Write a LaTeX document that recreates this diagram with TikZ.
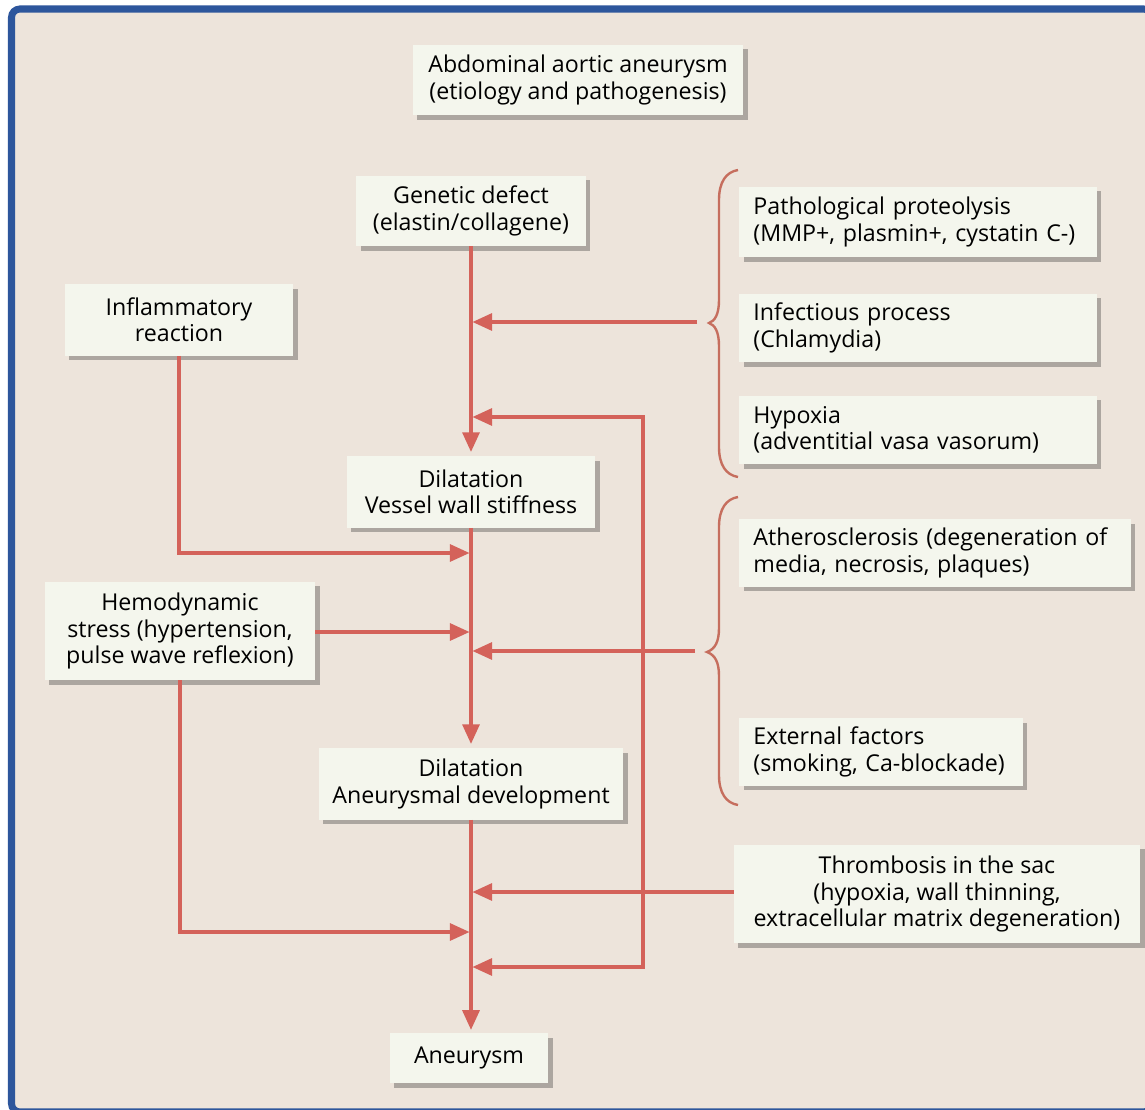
\documentclass[tikz,border=0pt]{standalone}
\usepackage{fontspec}
\setmainfont{Open Sans}
\usetikzlibrary{arrows.meta,shadows}
\definecolor{paper}{RGB}{237,228,219}
\definecolor{boxfill}{RGB}{244,246,237}
\definecolor{shade}{RGB}{172,166,160}
\definecolor{arrowred}{RGB}{212,98,90}
\definecolor{bracered}{RGB}{198,110,94}
\definecolor{frameblue}{RGB}{45,86,156}
\begin{document}
\begin{tikzpicture}[x=0.025cm, y=-0.025cm,
    box/.style={fill=boxfill, inner sep=0pt, align=center, font=\fontsize{16.5}{18.8}\selectfont, drop shadow={shadow xshift=3.2pt, shadow yshift=-3.2pt, fill=shade, opacity=1}},
    lbox/.style={box, align=left, inner xsep=0.35cm},
    flow/.style={draw=arrowred, line width=2.5pt, shorten >=1pt, -{Triangle[length=14pt, width=12pt]}},
    twoway/.style={flow, shorten <=1pt, {Triangle[length=14pt, width=12pt]}-{Triangle[length=14pt, width=12pt]}},
    brace/.style={draw=bracered, line width=1.7pt}]
    \useasboundingbox (0,0) rectangle (1145,1110); 
    \clip (0,0) rectangle (1145,1110); 
    \fill[white] (0,0) rectangle (1145,1110); 
    \draw[frameblue, fill=paper, line width=5pt, rounded corners=6pt] (11.5,9) rectangle (1152,1112); 
    \node[box, minimum width=8.25cm, minimum height=1.75cm] (title) at (578,80) {Abdominal aortic aneurysm\\(etiology and pathogenesis)}; 
    \node[box, minimum width=5.725cm, minimum height=1.75cm] (gen) at (471,211) {Genetic defect\\(elastin/collagene)}; 
    \node[box, minimum width=5.7cm, minimum height=1.775cm] (infl) at (179,320) {Inflammatory\\reaction}; 
    \node[box, minimum width=6.2cm, minimum height=1.775cm] (dil1) at (471,492) {Dilatation\\Vessel wall stiffness}; 
    \node[box, minimum width=6.75cm, minimum height=2.45cm] (hemo) at (180,631) {Hemodynamic\\stress (hypertension,\\pulse wave reflexion)}; 
    \node[box, minimum width=7.6cm, minimum height=1.775cm] (dil2) at (471,784) {Dilatation\\Aneurysmal development}; 
    \node[box, minimum width=3.95cm, minimum height=1.25cm] (aneu) at (469,1058) {Aneurysm}; 
    \node[lbox, text width=8.225cm, minimum height=1.75cm] (prot) at (918,222) {Pathological proteolysis\\(MMP+, plasmin+, cystatin C-)}; 
    \node[lbox, text width=8.225cm, minimum height=1.7cm] (infec) at (918,328) {Infectious process\\(Chlamydia)}; 
    \node[lbox, text width=8.225cm, minimum height=1.7cm] (hyp) at (918,430) {Hypoxia\\(adventitial vasa vasorum)}; 
    \node[lbox, text width=9.075cm, minimum height=1.675cm] (ather) at (935,553) {Atherosclerosis (degeneration of\\media, necrosis, plaques)}; 
    \node[lbox, text width=6.375cm, minimum height=1.675cm] (ext) at (881,752) {External factors\\(smoking, Ca-blockade)}; 
    \node[box, minimum width=10.15cm, minimum height=2.45cm] (thromb) at (937,894) {Thrombosis in the sac\\(hypoxia, wall thinning,\\extracellular matrix degeneration)}; 
    \coordinate (m1) at (471,322); 
    \coordinate (m2) at (471,417); 
    \coordinate (m3) at (471,553); 
    \coordinate (m4) at (471,632); 
    \coordinate (m5) at (471,651); 
    \coordinate (m6) at (471,892); 
    \coordinate (m7) at (471,932); 
    \coordinate (m8) at (471,967); 
    \coordinate (t1) at (697,322); 
    \coordinate (t2) at (695,651); 
    \coordinate (c1) at (643,417); 
    \coordinate (c2) at (643,967); 
    \draw[flow, shorten >=3pt] (gen) -- (dil1); 
    \draw[flow, shorten >=3pt] (dil1) -- (dil2); 
    \draw[flow, shorten >=2pt] (dil2.south) -- (dil2.south |- aneu.north); 
    \draw[flow] (t1) -- (m1); 
    \draw[twoway] (m2) -- (c1) -- (c2) -- (m8); 
    \draw[flow] (infl.south) |- (m3); 
    \draw[flow] (hemo.east |- m4) -- (m4); 
    \draw[flow] (t2) -- (m5); 
    \draw[flow] (thromb.west |- m6) -- (m6); 
    \draw[flow] (hemo.south) |- (m7); 
    \draw[brace] (738,170) .. controls (726,172) and (719,182) .. (719,200) -- (719,300) .. controls (719,314) and (715,321) .. (709,323) .. controls (715,325) and (719,332) .. (719,346) -- (719,447) .. controls (719,465) and (726,475) .. (738,477); 
    \draw[brace] (738,497) .. controls (726,499) and (719,509) .. (719,527) -- (719,628) .. controls (719,642) and (715,649) .. (707,652) .. controls (715,655) and (719,662) .. (719,676) -- (719,775) .. controls (719,793) and (726,803) .. (738,805); 
\end{tikzpicture}
\end{document}
